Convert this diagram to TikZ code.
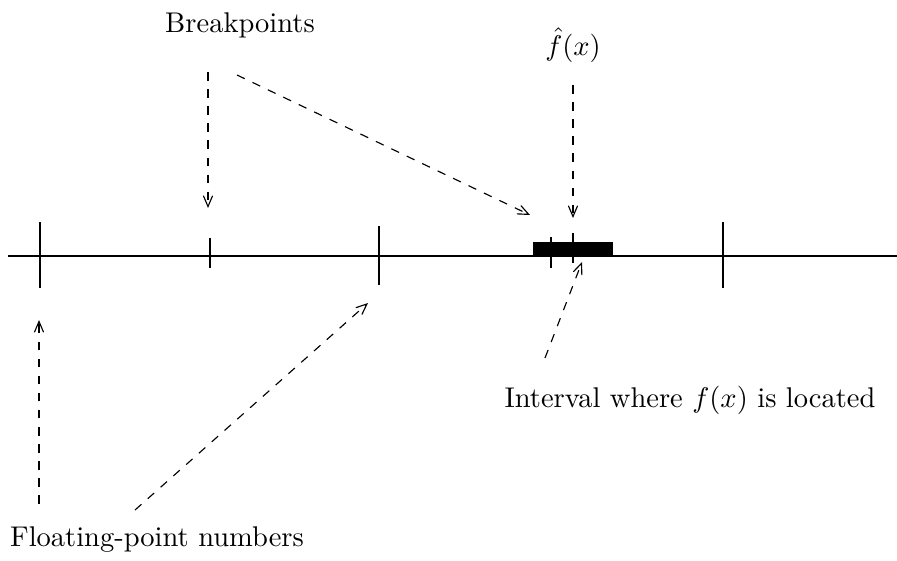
\documentclass[tikz,border=0pt]{standalone}
\usepackage{amsmath,amssymb}
\usetikzlibrary{arrows}

\begin{document}
\begin{tikzpicture}[x=0.01233cm,y=-0.01233cm]
\useasboundingbox (0,0) rectangle (897,560);

\node (bp) at (240,25) {Breakpoints};
\node (fh) at (573,45) {$\hat{f}(x)$};
\node (iv) at (690,400) {Interval where $f(x)$ is located};
\node (fp) at (157,540) {Floating-point numbers};

\draw[line width=0.7pt] (8,256) -- (897,256);
\draw[line width=1pt] (40,222) -- (40,288);
\draw[line width=1pt] (379,226) -- (379,285);
\draw[line width=1pt] (723,222) -- (723,288);
\draw[line width=0.4pt] (210,238) -- (210,268);
\fill (533,242) rectangle (613,256);
\draw[line width=0.4pt] (551,237) -- (551,268);
\draw[line width=0.4pt] (573,233) -- (573,263);

\coordinate (b1) at (208,72);
\coordinate (b1e) at (208,208);
\coordinate (b2) at (237,75);
\coordinate (b2e) at (530,215);
\coordinate (f1) at (573,85);
\coordinate (f1e) at (573,218);
\coordinate (i1) at (545,358);
\coordinate (i1e) at (582,262);
\coordinate (p1) at (39,504);
\coordinate (p1e) at (39,320);
\coordinate (p2) at (135,510);
\coordinate (p2e) at (368,303);

\path[->,>=angle 45,dashed] (b1) edge (b1e);
\path[->,>=angle 45,dashed] (b2) edge (b2e);
\path[->,>=angle 45,dashed] (f1) edge (f1e);
\path[->,>=angle 45,dashed] (i1) edge (i1e);
\path[->,>=angle 45,dashed] (p1) edge (p1e);
\path[->,>=angle 45,dashed] (p2) edge (p2e);

\end{tikzpicture}
\end{document}
